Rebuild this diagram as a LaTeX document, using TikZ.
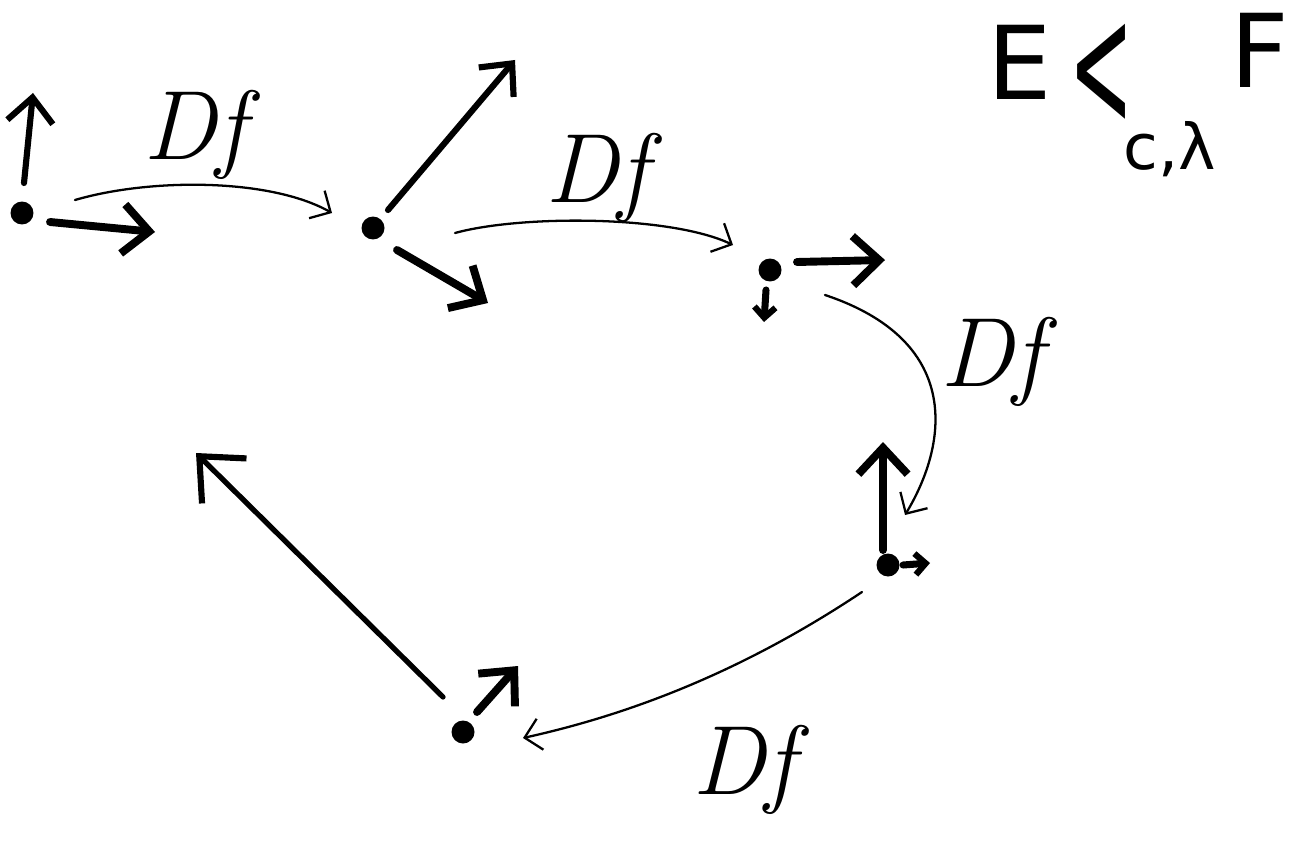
\documentclass[tikz,border=0pt]{standalone}
\usepackage{fontspec}
\usepackage{graphicx}
\newfontfamily\relfont{DejaVu Sans}
\usetikzlibrary{arrows.meta}
\begin{document}
\begin{tikzpicture}[x=0.02cm,y=-0.02cm,
  dotmark/.style={circle,fill=black,inner sep=0pt,minimum size=0.46cm},
  vecfat/.style={line width=4.5pt,line cap=round,-{Straight Barb[length=15pt,width=28pt,line width=4.5pt]}},
  vecmid/.style={line width=3.5pt,line cap=round,-{Straight Barb[length=14pt,width=26pt,line width=3.5pt]}},
  vecsmall/.style={line width=4pt,line cap=round,-{Straight Barb[length=6pt,width=12pt,line width=3.5pt]}},
  mapcurve/.style={line width=1.3pt,line cap=round,-{Straight Barb[length=9pt,width=18pt,line width=1.3pt]}},
  dflabel/.style={font=\fontsize{56}{56}\selectfont\itshape},
  reltext/.style={font=\fontsize{58}{58}\selectfont\relfont},
]
\useasboundingbox (0,0) rectangle (1293,851);
% points
\node[dotmark] (p1) at (22,213) {};
\node[dotmark] (p2) at (373,228) {};
\node[dotmark] (p3) at (770,270) {};
\node[dotmark] (p4) at (888,565) {};
\node[dotmark] (p5) at (463,732) {};
% vector starts
\coordinate (s1u) at (24,183);
\coordinate (s1r) at (50,222);
\coordinate (s2u) at (388,210);
\coordinate (s2r) at (397,250);
\coordinate (s3r) at (797,262);
\coordinate (s3d) at (766,290);
\coordinate (s4u) at (883,550);
\coordinate (s4r) at (903,565);
\coordinate (s5r) at (477,712);
\coordinate (s5l) at (443,697);
% vector tips
\coordinate (a1u) at (33,93);
\coordinate (a1r) at (155,232);
\coordinate (a2u) at (515,60);
\coordinate (a2r) at (488,303);
\coordinate (a3r) at (885,260);
\coordinate (a3d) at (764,322);
\coordinate (a4u) at (883,442);
\coordinate (a4r) at (930,563);
\coordinate (a5r) at (518,666);
\coordinate (a5l) at (196,453);
% vectors
\draw[vecmid] (s1u) -- (a1u);
\draw[vecfat] (s1r) -- (a1r);
\draw[vecmid] (s2u) -- (a2u);
\draw[vecfat] (s2r) -- (a2r);
\draw[vecfat] (s3r) -- (a3r);
\draw[vecsmall] (s3d) -- (a3d);
\draw[vecfat] (s4u) -- (a4u);
\draw[vecsmall] (s4r) -- (a4r);
\draw[vecfat] (s5r) -- (a5r);
\draw[line width=3pt,line cap=round,-{Straight Barb[length=20pt,width=36pt,line width=3.5pt]}] (s5l) -- (a5l);
% maps
\coordinate (c1s) at (75,200);
\coordinate (c1e) at (332,213);
\draw[mapcurve] (c1s) .. controls (150,178) and (270,178) .. (c1e);
\coordinate (c2s) at (455,233);
\coordinate (c2e) at (733,245);
\draw[mapcurve] (c2s) .. controls (520,215) and (670,215) .. (c2e);
\coordinate (c3s) at (825,295);
\coordinate (c3e) at (905,515);
\draw[mapcurve] (c3s) .. controls (960,340) and (950,440) .. (c3e);
\coordinate (c4s) at (862,592);
\coordinate (c4e) at (523,738);
\draw[mapcurve] (c4s) .. controls (760,660) and (650,710) .. (c4e);
% labels
\node[dflabel] (l1) at (195,135) {Df};
\node[dflabel] (l2) at (597,178) {Df};
\node[dflabel] (l3) at (992,362) {Df};
\node[dflabel] (l4) at (744,770) {Df};
\node[reltext, anchor=base] (relE) at (1020,100) {E};
\node[font=\fontsize{75}{75}\selectfont\relfont, inner sep=0pt] (relLt) at (1101,76) {\scalebox{0.58}[1.35]{<}};
\node[reltext, anchor=base] (relF) at (1260,88) {F};
\node[font=\fontsize{36}{36}\selectfont\relfont, anchor=base] (relsub) at (1170,170) {c,λ};
\end{tikzpicture}
\end{document}
